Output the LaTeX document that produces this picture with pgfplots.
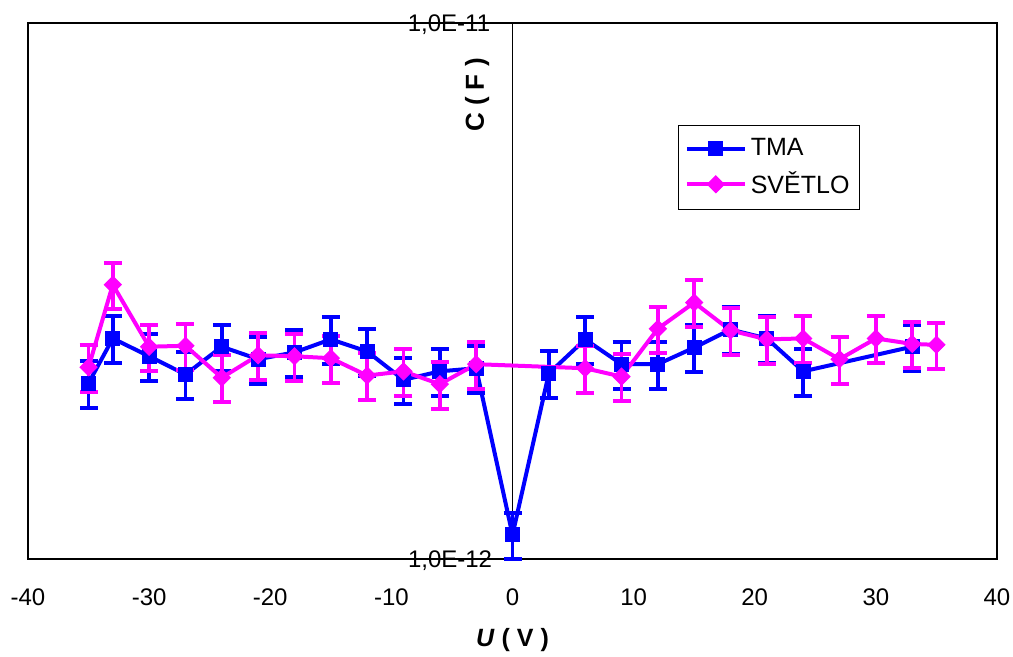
\documentclass[border=0pt]{standalone}
\usepackage{pgfplots}
\pgfplotsset{compat=1.18}
\usepackage{fontspec}
\setmainfont{Liberation Sans}
\definecolor{tma}{RGB}{0,0,255}
\definecolor{svetlo}{RGB}{255,0,255}
\begin{document}
\begin{tikzpicture}
\begin{axis}[
    scale only axis,
    width=484.5pt, height=268pt,
    at={(0,0)}, anchor=south west,
    xmin=-40, xmax=40,
    ymode=log, ymin=1e-12, ymax=1e-11,
    xtick={-40,-30,...,40},
    ytick=\empty,
    major tick length=0pt,
    axis line style={black, line width=0.9pt},
    clip=false,
    /pgf/number format/assume math mode=true,
    xticklabel style={font=\fontsize{12}{14}\selectfont, anchor=center, yshift=-19pt},
    legend style={at={(0.671,0.8097)}, anchor=north west, draw=black, line width=0.6pt,
        font=\fontsize{12.5}{15}\selectfont, inner xsep=3pt, inner ysep=4.5pt, row sep=2.5pt,
        cells={anchor=west}},
    legend image code/.code={\draw[mark repeat=2,mark phase=2] plot coordinates {(0pt,0pt) (14.5pt,0pt) (29pt,0pt)};},
]
% osa y v nule
\draw[black, line width=0.5pt] (axis cs:0,1e-12) -- (axis cs:0,1e-11);

% TMA
\addplot[tma, line width=2pt, mark=square*, mark size=3.5pt, mark options={line width=0.5pt},
    error bars/.cd, y dir=both, y fixed relative=0.1,
    error bar style={line width=1.75pt}, error mark options={rotate=90, line width=2pt, mark size=4.5pt}]
coordinates {
    (-35,2.13e-12) (-33,2.58e-12) (-30,2.39e-12) (-27,2.21e-12) (-24,2.49e-12)
    (-21,2.36e-12) (-18,2.43e-12) (-15,2.57e-12) (-12,2.44e-12) (-9,2.16e-12)
    (-6,2.24e-12) (-3,2.27e-12) (0,1.11e-12) (3,2.22e-12) (6,2.57e-12)
    (9,2.31e-12) (12,2.31e-12) (15,2.48e-12) (18,2.68e-12) (21,2.58e-12)
    (24,2.24e-12) (33,2.49e-12)
};
\addlegendentry{TMA}

% SVETLO
\addplot[svetlo, line width=2pt, mark=square*, mark size=3pt, mark options={rotate=45, line width=0.5pt},
    error bars/.cd, y dir=both, y fixed relative=0.1,
    error bar style={line width=1.75pt}, error mark options={rotate=90, line width=2pt, mark size=4.5pt}]
coordinates {
    (-35,2.28e-12) (-33,3.25e-12) (-30,2.49e-12) (-27,2.50e-12) (-24,2.18e-12)
    (-21,2.40e-12) (-18,2.39e-12) (-15,2.37e-12) (-12,2.20e-12) (-9,2.24e-12)
    (-6,2.12e-12) (-3,2.31e-12) (6,2.27e-12) (9,2.19e-12) (12,2.69e-12)
    (15,3.01e-12) (18,2.67e-12) (21,2.57e-12) (24,2.58e-12) (27,2.36e-12)
    (30,2.58e-12) (33,2.52e-12) (35,2.51e-12)
};
\addlegendentry{SVĚTLO}

\node[anchor=east, inner sep=0pt, font=\fontsize{12}{14}\selectfont, xshift=-11pt, yshift=-1pt] at (axis cs:0,1e-11) {1,0E-11};
\node[anchor=east, inner sep=0pt, font=\fontsize{12}{14}\selectfont, xshift=-10pt, yshift=-1pt] at (axis cs:0,1e-12) {1,0E-12};
\node[rotate=90, font=\bfseries\fontsize{13}{15}\selectfont] at (rel axis cs:0.4634,0.8657) {C ( F )};
\node[font=\bfseries\fontsize{12.5}{15}\selectfont, yshift=-40.5pt] at (rel axis cs:0.5,0) {\textit{U} ( V )};
\end{axis}
\pgfresetboundingbox
\path[use as bounding box] (-14pt,-49pt) rectangle (492.5pt,279.5pt);
\end{tikzpicture}
\end{document}
